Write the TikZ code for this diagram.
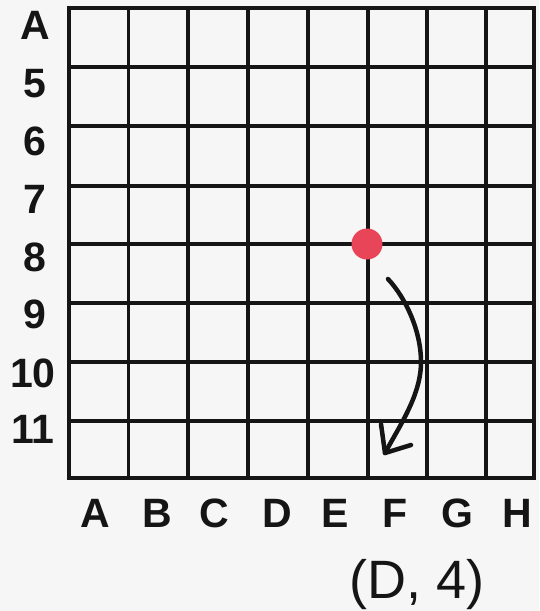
\documentclass[tikz,border=0pt]{standalone}
\usepackage{fontspec}
\setmainfont{Liberation Sans}
\definecolor{bg}{HTML}{F6F6F6}
\definecolor{dotred}{HTML}{E84558}
\definecolor{ink}{HTML}{151515}
\begin{document}
\begin{tikzpicture}[x=1pt,y=-1pt,
  gridline/.style={draw=ink,line width=3.4pt,line cap=rect},
  rowlab/.style={anchor=base,inner sep=0pt,font=\fontsize{41}{41}\selectfont\bfseries,text=ink},
  collab/.style={anchor=base,inner sep=0pt,font=\fontsize{41}{41}\selectfont\bfseries,text=ink},
  coordlab/.style={anchor=base,inner sep=0pt,font=\fontsize{54}{54}\selectfont,text=ink},
  marker/.style={circle,fill=dotred,minimum size=31pt,inner sep=0pt},
  hand/.style={draw=ink,line width=4.5pt,line cap=round,line join=round}]
\fill[bg] (0,0) rectangle (539,611);
\useasboundingbox (0,0) rectangle (539,611);
% grid
\foreach \x in {69,128.5,188,248,308,368,427,486,534}
  \draw[gridline] (\x,8) -- (\x,478);
\foreach \y in {8,67,126,186,244,303,362,421,478}
  \draw[gridline] (69,\y) -- (534,\y);
% row labels
\node[rowlab] (rA) at (35,39) {A};
\node[rowlab] (r5) at (35,97) {5};
\node[rowlab] (r6) at (35,155) {6};
\node[rowlab] (r7) at (35,213) {7};
\node[rowlab] (r8) at (35,271) {8};
\node[rowlab] (r9) at (35,328) {9};
\node[rowlab] (r10) at (33,387) {10};
\node[rowlab] (r11) at (33,443) {11};
% column labels
\node[collab] (cA) at (95,527) {A};
\node[collab] (cB) at (157,527) {B};
\node[collab] (cC) at (214,527) {C};
\node[collab] (cD) at (277,527) {D};
\node[collab] (cE) at (335,527) {E};
\node[collab] (cF) at (395,527) {F};
\node[collab] (cG) at (457,527) {G};
\node[collab] (cH) at (517,527) {H};
% coordinate label
\node[coordlab] (res) at (417,598) {(D, 4)};
% dot
\node[marker] (dot) at (367,244) {};
% arrow
\coordinate (s) at (388,279);
\coordinate (m) at (421,362);
\coordinate (e) at (385,453);
\coordinate (h1) at (381,424);
\coordinate (h2) at (411,445);
\draw[hand] (s) .. controls (405,297) and (421,330) .. (m)
  .. controls (421,395) and (400,425) .. (e);
\draw[hand] (h1) -- (e) -- (h2);
\end{tikzpicture}
\end{document}
